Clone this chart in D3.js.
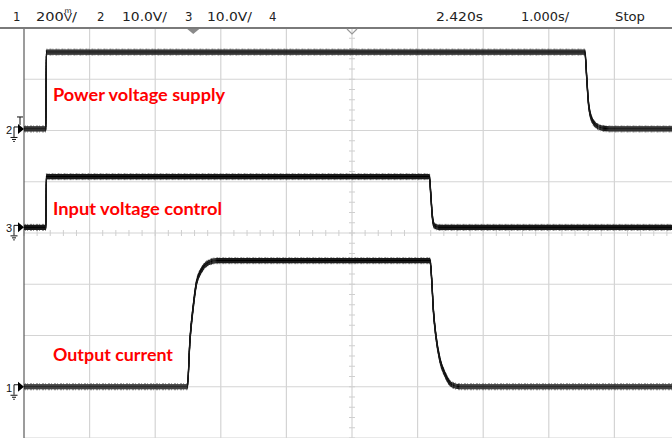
<!DOCTYPE html>
<html>
<head>
<meta charset="utf-8">
<script src="https://cdn.jsdelivr.net/npm/d3@7"></script>
<style>
  html, body { margin: 0; padding: 0; background: #fff; }
  svg { display: block; }
</style>
</head>
<body>
<svg id="chart" width="672" height="438"></svg>
<script>
// ---------------- DATA ----------------
// Time axis (seconds); 1.000 s/div, screen centre at 2.420 s, trigger at 0 s
const timeDomain = [-2.58, 7.42];
const divisionsY = [-4, 4];

// Channel 1: Output current (mA), 200 mA/div
const ch1Time    = [-2.58, -0.09, -0.05, 0.00, 0.05, 0.13, 0.23, 0.36, 3.61, 3.635, 3.66, 3.70, 3.76, 3.84, 3.94, 4.07, 7.42];
const ch1Current = [0,     0,     183,   313,  406,  457,  484,  492,  492,  418,   300,  196,  105,  47,   8,    0,    0];

// Channel 2: Power voltage supply (V), 10 V/div
const ch2Time = [-2.58, -2.245, -2.24, 5.97, 6.00, 6.02, 6.06, 6.13, 6.23, 6.35, 7.42];
const ch2Volt = [0,     0,      15,    15,   9.6,  5.7,  2.4,  0.8,  0.15, 0,    0];

// Channel 3: Input voltage control (V), 10 V/div
const ch3Time = [-2.58, -2.245, -2.24, 3.60, 3.62, 3.645, 3.675, 3.74, 7.42];
const ch3Volt = [0,     0,      9.9,   9.9,  6.6,  2.1,   0.3,   0,    0];

const channelNames   = ["1", "2", "3"];
const channelPerDiv  = [200, 10, 10];         // units per division
const channelOffset  = [-3.0, 2.03, 0.11];    // ground position, divisions
const channelLabels  = ["Output current", "Power voltage supply", "Input voltage control"];

const headerLeft  = ["1", "200", "2", "10.0V/", "3", "10.0V/", "4"];
const headerRight = ["2.420s", "1.000s/", "Stop"];

// ---------------- DRAW ----------------
const svg = d3.select("#chart");
const W = 672, H = 438;

const x = d3.scaleLinear().domain(timeDomain).range([24, 680]);
const y = d3.scaleLinear().domain(divisionsY).range([438, 28]);

const g = svg.append("g");

// grid
const gridX = d3.range(0, 11).map(k => timeDomain[0] + k);
const gridY = d3.range(-4, 5);
g.selectAll("line.gx").data(gridX.slice(1)).enter().append("line")
  .attr("x1", d => x(d)).attr("x2", d => x(d))
  .attr("y1", y(4)).attr("y2", y(-4))
  .attr("stroke", "#d4d4d4").attr("stroke-width", 1.2);
g.selectAll("line.gy").data(gridY.slice(0, -1)).enter().append("line")
  .attr("x1", x(timeDomain[0])).attr("x2", x(timeDomain[1]))
  .attr("y1", d => y(d)).attr("y2", d => y(d))
  .attr("stroke", "#d4d4d4").attr("stroke-width", 1.2);

// minor ticks on centre lines
const tc = (timeDomain[0] + timeDomain[1]) / 2;
const minorY = d3.range(-4, 4.001, 0.2);
g.selectAll("line.my").data(minorY).enter().append("line")
  .attr("x1", x(tc) - 3).attr("x2", x(tc) + 3)
  .attr("y1", d => y(d)).attr("y2", d => y(d))
  .attr("stroke", "#cfcfcf").attr("stroke-width", 1);
const minorX = d3.range(0, 50.001).map(k => timeDomain[0] + k * 0.2);
g.selectAll("line.mx").data(minorX).enter().append("line")
  .attr("x1", d => x(d)).attr("x2", d => x(d))
  .attr("y1", y(0) - 3).attr("y2", y(0) + 3)
  .attr("stroke", "#cfcfcf").attr("stroke-width", 1);

// left border & top border
g.append("line").attr("x1", x(timeDomain[0])).attr("x2", x(timeDomain[0]))
  .attr("y1", y(4)).attr("y2", H).attr("stroke", "#5a5a5a").attr("stroke-width", 1.2);
g.append("line").attr("x1", 0).attr("x2", W).attr("y1", y(4)).attr("y2", y(4))
  .attr("stroke", "#7a7a7a").attr("stroke-width", 1.8);

// trigger markers on top edge
const t0 = x(0), tm = x(tc), ty = y(4);
g.append("path").attr("d", `M${t0 - 6},${ty + 1} L${t0 + 6},${ty + 1} L${t0},${ty + 6} Z`).attr("fill", "#8a8a8a");
g.append("path").attr("d", `M${tm - 5},${ty + 1} L${tm},${ty + 6} L${tm + 5},${ty + 1}`)
  .attr("fill", "none").attr("stroke", "#999").attr("stroke-width", 1.2);

// traces
const series = [
  ch1Time.map((t, i) => [t, ch1Current[i]]),
  ch2Time.map((t, i) => [t, ch2Volt[i]]),
  ch3Time.map((t, i) => [t, ch3Volt[i]])
];
series.forEach((data, c) => {
  const line = d3.line()
    .x(d => x(d[0]))
    .y(d => y(d[1] / channelPerDiv[c] + channelOffset[c]))
    .curve(d3.curveMonotoneX);
  const dAttr = line(data);
  [-3, 3].forEach(dy => {
    g.append("path").attr("d", dAttr).attr("transform", `translate(0,${dy})`)
      .attr("fill", "none").attr("stroke", "#8a8a8a").attr("stroke-width", 1).attr("stroke-dasharray", "2,1,1,2");
  });
  [-2, -1, 0, 1, 2].forEach(dy => {
    g.append("path").attr("d", dAttr).attr("transform", `translate(0,${dy})`)
      .attr("fill", "none").attr("stroke", dy === 0 ? "#000" : "#1a1a1a").attr("stroke-width", 1.2);
  });
});

// channel ground markers
channelNames.forEach((name, c) => {
  const y0 = y(channelOffset[c]);
  const m = g.append("g");
  m.append("text").attr("x", 6).attr("y", y0 + 5).text(name)
    .attr("font-family", "Liberation Sans Narrow, Liberation Sans, Arial, sans-serif")
    .attr("font-size", 11).attr("fill", "#111");
  m.append("path").attr("d", `M14,${y0 + 5} V${y0 - 2} H19`).attr("fill", "none").attr("stroke", "#111").attr("stroke-width", 1);
  m.append("path").attr("d", `M18,${y0 - 5} L24,${y0} L18,${y0 + 5} Z`).attr("fill", "#000");
  m.append("path").attr("d", `M14,${y0 + 5} V${y0 + 8} M10.5,${y0 + 8.5} H17.5 M12,${y0 + 10.5} H16 M13.2,${y0 + 12.5} H14.8`)
    .attr("fill", "none").attr("stroke", "#111").attr("stroke-width", 1);
  if (name === "2") {
    m.append("path").attr("d", `M17,${y0 - 12} H23 M20,${y0 - 12} V${y0 - 4}`).attr("fill", "none").attr("stroke", "#111").attr("stroke-width", 1);
  }
});

// red labels
const labelPos = [[53, 361, 120], [53, 101, 172], [53, 215, 169]];
channelLabels.forEach((txt, c) => {
  g.append("text").attr("x", labelPos[c][0]).attr("y", labelPos[c][1]).text(txt)
    .attr("font-family", "Lato, 'Open Sans', sans-serif").attr("font-weight", "bold")
    .attr("font-size", 16.5).attr("fill", "#ff0000")
    .attr("textLength", labelPos[c][2]).attr("lengthAdjust", "spacingAndGlyphs");
});

// header text
const hdrFont = "Liberation Sans Narrow, DejaVu Sans Condensed, Liberation Sans, sans-serif";
const hdrLeftPos = [[13, 0], [36, 41], [97, 0], [122, 45], [185, 0], [207, 45], [269, 0]];
headerLeft.forEach((txt, i) => {
  const t = g.append("text").attr("x", hdrLeftPos[i][0]).attr("y", 21)
    .attr("font-family", hdrFont).attr("font-size", 13).attr("fill", "#222");
  if (txt === "200") {
    // "200" followed by a stacked m-over-V unit glyph and "/", as one flowing text
    t.append("tspan").text(txt);
    t.append("tspan").attr("font-size", 10).attr("font-family", "DejaVu Sans, sans-serif").text("V\u036B");
    t.append("tspan").text("/");
    t.attr("textLength", hdrLeftPos[i][1]).attr("lengthAdjust", "spacingAndGlyphs");
  } else {
    t.text(txt);
    if (hdrLeftPos[i][1]) t.attr("textLength", hdrLeftPos[i][1]).attr("lengthAdjust", "spacingAndGlyphs");
  }
});

const hdrRightPos = [[436, 47], [521, 48], [615, 30]];
headerRight.forEach((txt, i) => {
  g.append("text").attr("x", hdrRightPos[i][0]).attr("y", 21).text(txt)
    .attr("font-family", hdrFont).attr("font-size", 13).attr("fill", "#222")
    .attr("textLength", hdrRightPos[i][1]).attr("lengthAdjust", "spacingAndGlyphs");
});
</script>
</body>
</html>
